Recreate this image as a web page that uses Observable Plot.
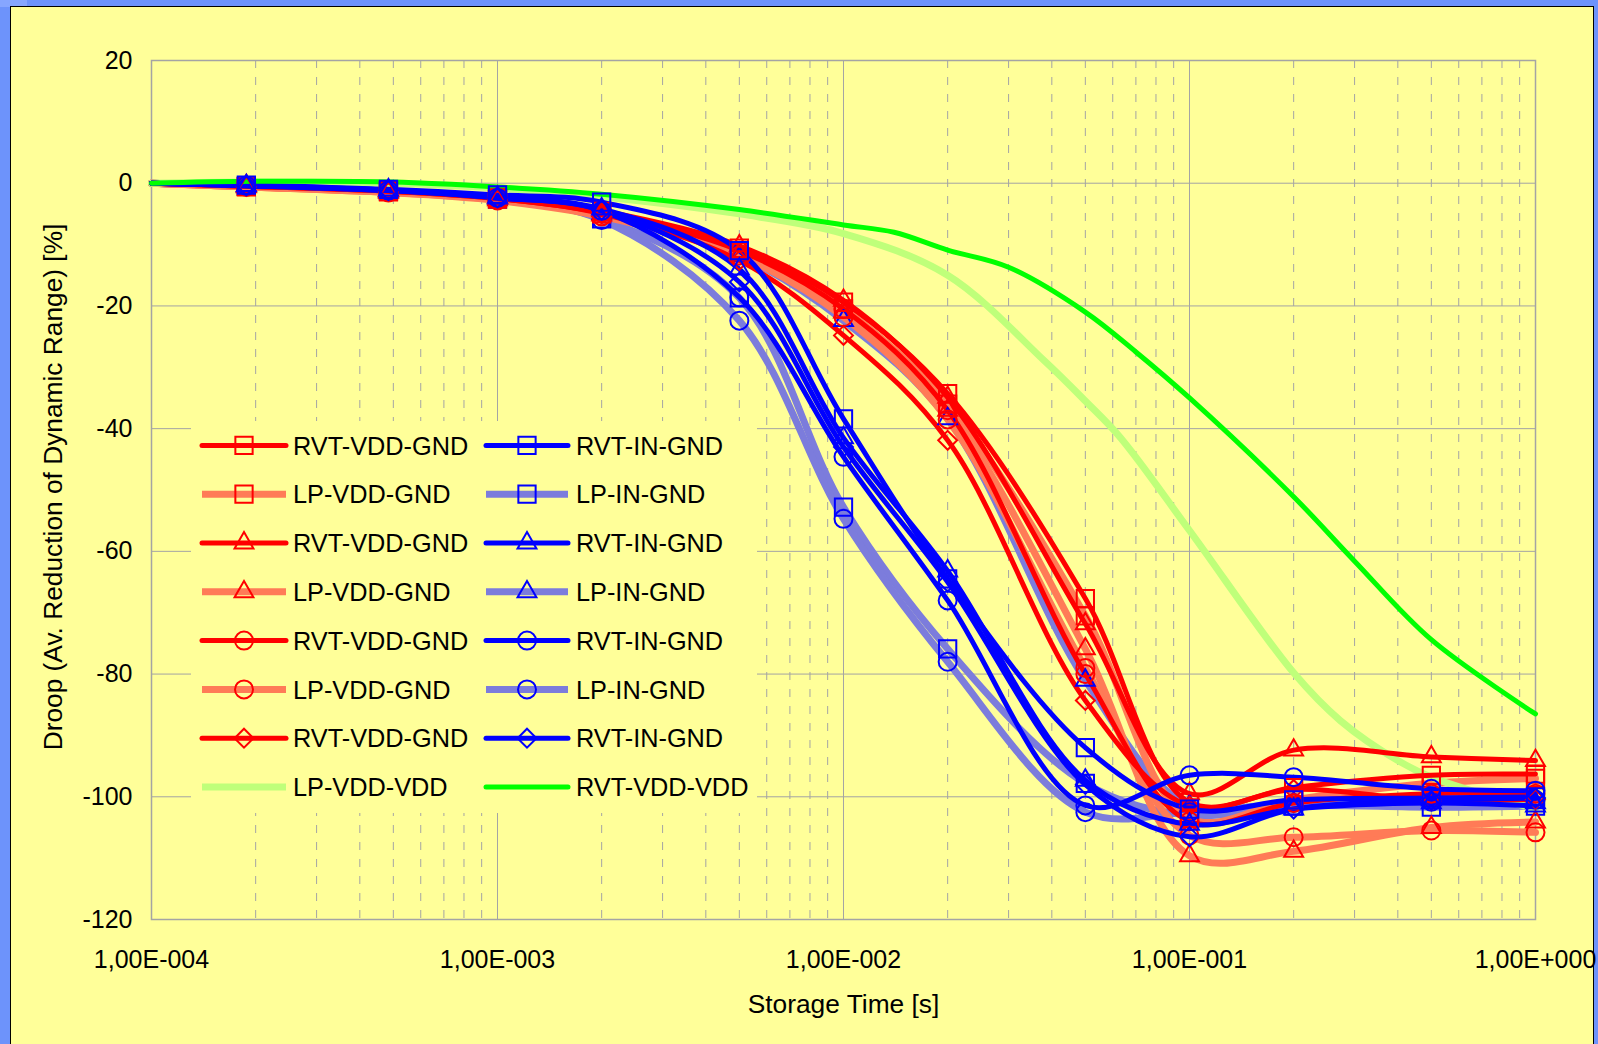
<!DOCTYPE html>
<html>
<head>
<meta charset="utf-8">
<script src="https://cdn.jsdelivr.net/npm/d3@7"></script>
<script src="https://cdn.jsdelivr.net/npm/@observablehq/plot@0.6"></script>
<style>
  html, body { margin: 0; padding: 0; }
  body { width: 1598px; height: 1044px; background: #6d93fb; position: relative; overflow: hidden;
         font-family: "Liberation Sans", Arial, sans-serif; }
  #corner { position: absolute; left: 0; top: 0; width: 27px; height: 7px; background: #86a6ff; }
  #panel { position: absolute; left: 10px; top: 6px; width: 1584px; height: 1046px; background: #ffff99;
           border: 1px solid #000; box-sizing: border-box; }
  #chart, #legend { position: absolute; left: 0; top: 0; }
</style>
</head>
<body>
<div id="corner"></div>
<div id="panel"></div>
<div id="chart"></div>
<svg id="legend" width="1598" height="1044"></svg>
<script>
// ---------- data ----------
const times = [1e-4, 1.88e-4, 4.84e-4, 1e-3, 2e-3, 5e-3, 1e-2, 2e-2, 5e-2, 1e-1, 2e-1, 5e-1, 1];

const rvtVddGndSquare   = [0, -0.5, -1.2, -2.4, -4.6, -10.6, -19.4, -34.3, -67.7, -100.9, -98.5, -96.5, -96.3];
const lpVddGndSquare    = [0, -0.6, -1.4, -2.6, -5.0, -11.2, -20.5, -36.0, -70.5, -103.5, -100.5, -97.8, -97.0];
const rvtVddGndTriangle = [0, -0.4, -1.2, -2.3, -4.5, -10.2, -19.1, -34.9, -71.8, -99.5, -92.4, -93.5, -94.1];
const lpVddGndTriangle  = [0, -0.6, -1.5, -2.7, -5.2, -11.5, -21.0, -37.0, -75.9, -109.6, -108.9, -105.0, -104.1];
const rvtVddGndCircle   = [0, -0.5, -1.3, -2.5, -4.8, -11.0, -20.5, -37.0, -80.0, -104.0, -101.0, -99.5, -99.5];
const lpVddGndCircle    = [0, -0.6, -1.5, -2.8, -5.4, -11.8, -21.8, -38.5, -79.0, -106.3, -106.6, -105.5, -105.8];
const rvtVddGndDiamond  = [0, -0.5, -1.3, -2.5, -5.0, -12.6, -24.8, -41.9, -84.3, -101.5, -98.8, -100.6, -100.4];

const rvtInGndSquare    = [0, -0.3, -1.0, -1.9, -3.1, -11.0, -38.4, -64.5, -92.0, -102.0, -100.5, -100.2, -100.0];
const lpInGndSquare     = [0, -0.5, -1.3, -2.6, -5.8, -18.7, -52.8, -75.9, -97.8, -103.0, -101.5, -101.7, -101.5];
const rvtInGndTriangle  = [0, -0.4, -1.1, -2.3, -4.2, -14.0, -41.5, -63.2, -97.3, -104.5, -102.0, -101.0, -101.5];
const lpInGndTriangle   = [0, -0.5, -1.3, -2.5, -5.0, -11.8, -22.4, -38.4, -81.0, -101.5, -101.0, -100.5, -101.0];
const rvtInGndCircle    = [0, -0.4, -1.2, -2.4, -4.5, -18.6, -44.6, -68.0, -101.4, -96.5, -96.8, -98.7, -99.0];
const lpInGndCircle     = [0, -0.5, -1.4, -2.7, -6.0, -22.4, -54.7, -78.0, -102.5, -102.5, -101.0, -100.8, -100.5];
const rvtInGndDiamond   = [0, -0.4, -1.2, -2.4, -4.4, -16.1, -43.0, -65.0, -98.0, -106.5, -102.0, -100.6, -100.2];

const lpVddVddTimes  = [1e-4, 2e-4, 5e-4, 1e-3, 2e-3, 5e-3, 1e-2, 2e-2, 3.8e-2, 5e-2, 6.3e-2, 1e-1, 2e-1, 2.73e-1, 4e-1, 5e-1, 1];
const lpVddVdd       = [0, 0.2, 0, -0.8, -2.2, -5.0, -8.2, -15.0, -28.9, -35.5, -41.4, -56.6, -79.8, -87.6, -94.1, -96.8, -102.0];
const rvtVddVddTimes = [1e-4, 2e-4, 5e-4, 1e-3, 2e-3, 5e-3, 1e-2, 1.4e-2, 2e-2, 3e-2, 5e-2, 7e-2, 1e-1, 2e-1, 3e-1, 5e-1, 1];
const rvtVddVdd      = [0, 0.3, 0.2, -0.6, -1.8, -4.3, -6.8, -8.0, -10.9, -13.7, -21.0, -27.5, -35.0, -51.1, -61.6, -74.4, -86.5];

const yTicks = [20, 0, -20, -40, -60, -80, -100, -120];
const yTickLabels = ["20", "0", "-20", "-40", "-60", "-80", "-100", "-120"];
const xTicks = [1e-4, 1e-3, 1e-2, 1e-1, 1];
const xTickLabels = ["1,00E-004", "1,00E-003", "1,00E-002", "1,00E-001", "1,00E+000"];
const xLabel = "Storage Time [s]";
const yLabel = "Droop (Av. Reduction of Dynamic Range) [%]";

const legendLeft  = ["RVT-VDD-GND", "LP-VDD-GND", "RVT-VDD-GND", "LP-VDD-GND", "RVT-VDD-GND", "LP-VDD-GND", "RVT-VDD-GND", "LP-VDD-VDD"];
const legendRight = ["RVT-IN-GND", "LP-IN-GND", "RVT-IN-GND", "LP-IN-GND", "RVT-IN-GND", "LP-IN-GND", "RVT-IN-GND", "RVT-VDD-VDD"];

// ---------- styles ----------
const RED = "#ff0000", SALMON = "#ff7b57", BLUE = "#0000ff", SLATE = "#7c7cdc", LGREEN = "#bfff7a", GREEN = "#00ff00";
const symR = {square2: 11, triangle2: 9, circle: 9, diamond2: 8.5};
const series = [
  {t: times, v: lpInGndSquare,     c: SLATE,  w: 7, m: "square2",   mc: BLUE, legend: [1, 1]},
  {t: times, v: lpInGndTriangle,   c: SLATE,  w: 7, m: "triangle2", mc: BLUE, legend: [1, 3]},
  {t: times, v: lpInGndCircle,     c: SLATE,  w: 7, m: "circle",    mc: BLUE, legend: [1, 5]},
  {t: times, v: lpVddGndSquare,    c: SALMON, w: 7, m: "square2",   mc: RED,  legend: [0, 1]},
  {t: times, v: lpVddGndTriangle,  c: SALMON, w: 7, m: "triangle2", mc: RED,  legend: [0, 3]},
  {t: times, v: lpVddGndCircle,    c: SALMON, w: 7, m: "circle",    mc: RED,  legend: [0, 5]},
  {t: lpVddVddTimes, v: lpVddVdd,  c: LGREEN, w: 7, m: null,        mc: null, legend: [0, 7]},
  {t: times, v: rvtVddGndSquare,   c: RED,    w: 5, m: "square2",   mc: RED,  legend: [0, 0]},
  {t: times, v: rvtVddGndTriangle, c: RED,    w: 5, m: "triangle2", mc: RED,  legend: [0, 2]},
  {t: times, v: rvtVddGndCircle,   c: RED,    w: 5, m: "circle",    mc: RED,  legend: [0, 4]},
  {t: times, v: rvtVddGndDiamond,  c: RED,    w: 5, m: "diamond2",  mc: RED,  legend: [0, 6]},
  {t: times, v: rvtInGndSquare,    c: BLUE,   w: 5, m: "square2",   mc: BLUE, legend: [1, 0]},
  {t: times, v: rvtInGndTriangle,  c: BLUE,   w: 5, m: "triangle2", mc: BLUE, legend: [1, 2]},
  {t: times, v: rvtInGndCircle,    c: BLUE,   w: 5, m: "circle",    mc: BLUE, legend: [1, 4]},
  {t: times, v: rvtInGndDiamond,   c: BLUE,   w: 5, m: "diamond2",  mc: BLUE, legend: [1, 6]},
  {t: rvtVddVddTimes, v: rvtVddVdd, c: GREEN, w: 5, m: null,        mc: null, legend: [1, 7]},
];

const GRID = "#a4a4a4";
const minorX = [];
for (const d of [1e-4, 1e-3, 1e-2, 1e-1]) for (let k = 2; k <= 9; k++) minorX.push(k * d);

const marks = [
  Plot.ruleY(yTicks, {stroke: GRID, strokeWidth: 1}),
  Plot.ruleX(minorX, {stroke: GRID, strokeWidth: 1, strokeDasharray: "8,9"}),
  Plot.ruleX(xTicks, {stroke: GRID, strokeWidth: 1}),
  Plot.frame({stroke: GRID, strokeWidth: 1.5})
];
for (const s of series) {
  const rows = s.t.map((t, i) => ({t, v: s.v[i]}));
  marks.push(Plot.line(rows, {x: "t", y: "v", stroke: s.c, strokeWidth: s.w, curve: "catmull-rom", strokeLinejoin: "round"}));
}
for (const s of series) {
  if (!s.m) continue;
  const rows = s.t.map((t, i) => ({t, v: s.v[i]})).slice(1);
  marks.push(Plot.dot(rows, {x: "t", y: "v", symbol: s.m, r: symR[s.m], fill: "none", stroke: s.mc, strokeWidth: 2}));
}
marks.push(
  Plot.text(xTicks, {x: d => d, text: (d, i) => xTickLabels[i], frameAnchor: "bottom", lineAnchor: "middle", dy: 40, fontSize: 25, fill: "#000"}),
  Plot.text(yTicks, {y: d => d, text: (d, i) => yTickLabels[i], frameAnchor: "left", lineAnchor: "middle", dx: -19, textAnchor: "end", fontSize: 25, fill: "#000"}),
  Plot.text([xLabel], {frameAnchor: "bottom", lineAnchor: "middle", textAnchor: "middle", dy: 85, fontSize: 26.3, fill: "#000"}),
  Plot.text([yLabel], {frameAnchor: "left", lineAnchor: "middle", textAnchor: "middle", dx: -98, dy: -3, rotate: -90, fontSize: 26.3, fill: "#000"})
);

const chart = Plot.plot({
  width: 1598, height: 1044,
  marginLeft: 151, marginRight: 63, marginTop: 60, marginBottom: 125,
  x: {type: "log", domain: [1e-4, 1], axis: null},
  y: {domain: [-120, 20], axis: null},
  style: {background: "transparent", fontFamily: "'Liberation Sans', Arial, sans-serif", color: "#000"},
  marks
});
document.getElementById("chart").appendChild(chart);

// ---------- legend ----------
const lg = d3.select("#legend");
lg.append("rect").attr("x", 191).attr("y", 421).attr("width", 566).attr("height", 392).attr("fill", "#ffff99");
const colX = [{x0: 202, x1: 286, tx: 293}, {x0: 486, x1: 568, tx: 576}];
const rowY = i => 445.4 + i * 48.8;
const sym = {square2: d3.symbolSquare2, triangle2: d3.symbolTriangle2, circle: d3.symbolCircle, diamond2: d3.symbolDiamond2};
for (const s of series) {
  const [c, r] = s.legend;
  const y = rowY(r), X = colX[c];
  lg.append("line").attr("x1", X.x0).attr("x2", X.x1).attr("y1", y).attr("y2", y)
    .attr("stroke", s.c).attr("stroke-width", s.w).attr("stroke-linecap", s.w === 5 ? "round" : "butt");
  if (s.m) {
    const rr = symR[s.m];
    lg.append("path").attr("transform", `translate(${(X.x0 + X.x1) / 2},${y})`)
      .attr("d", d3.symbol(sym[s.m], Math.PI * rr * rr)())
      .attr("fill", "none").attr("stroke", s.mc).attr("stroke-width", 2);
  }
  const label = c === 0 ? legendLeft[r] : legendRight[r];
  lg.append("text").attr("x", X.tx).attr("y", y).attr("dy", "0.36em")
    .attr("font-size", 25.3).attr("font-family", "'Liberation Sans', Arial, sans-serif").attr("fill", "#000").text(label);
}
</script>
</body>
</html>
